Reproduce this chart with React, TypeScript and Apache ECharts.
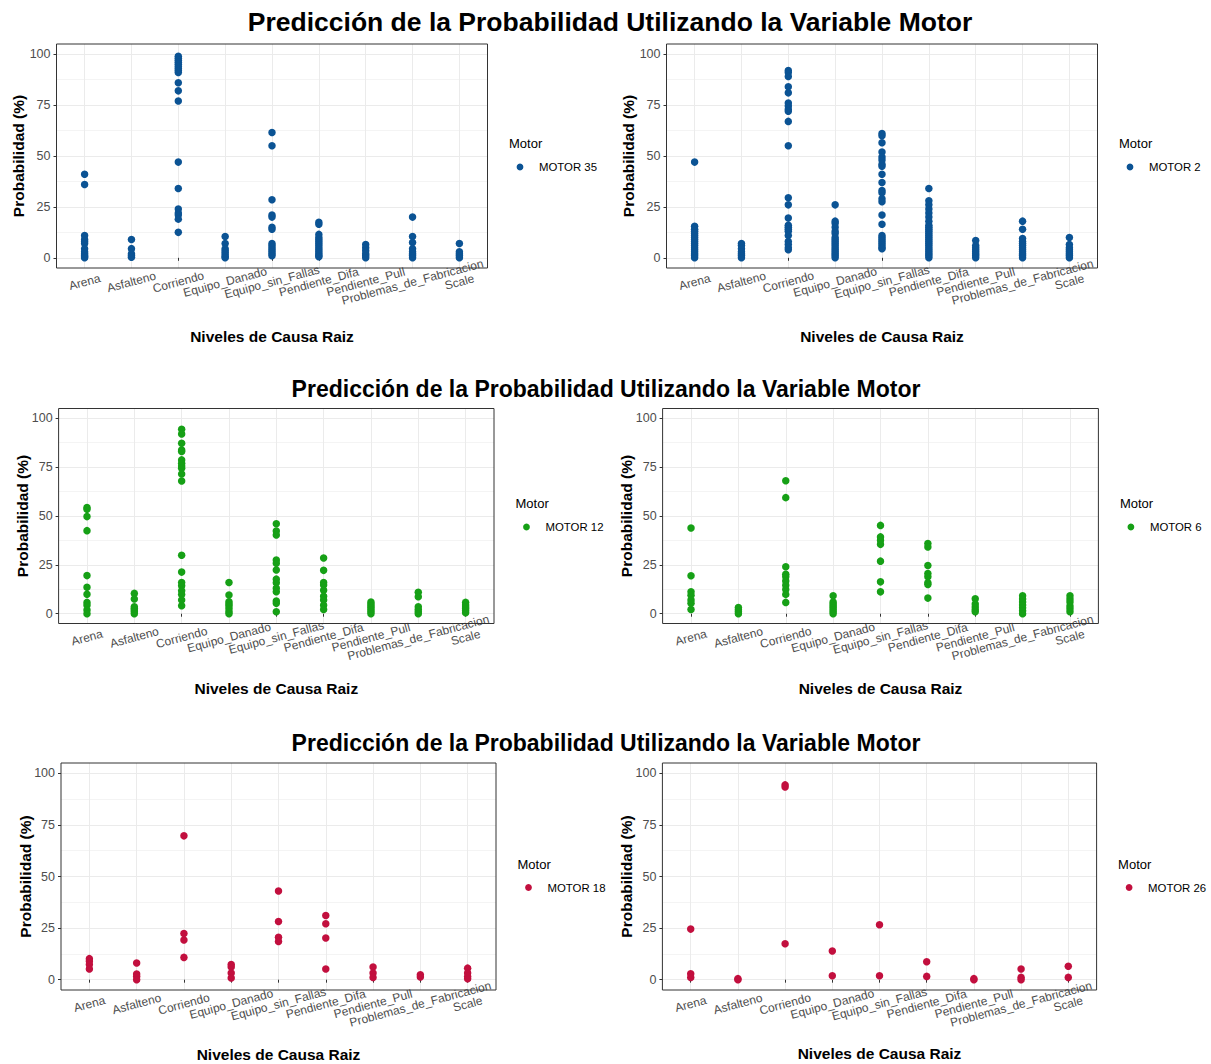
import React, { useEffect, useRef } from "react";
import * as echarts from "echarts";

const categories = [
  "Arena",
  "Asfalteno",
  "Corriendo",
  "Equipo_Danado",
  "Equipo_sin_Fallas",
  "Pendiente_Difa",
  "Pendiente_Pull",
  "Problemas_de_Fabricacion",
  "Scale",
];

const yTicks = [0, 25, 50, 75, 100];

const titleText = "Predicción de la Probabilidad Utilizando la Variable Motor";
const xAxisTitle = "Niveles de Causa Raiz";
const yAxisTitle = "Probabilidad (%)";
const legendTitle = "Motor";

const motor35: number[][] = [
  [41, 36, 11, 9, 8, 7, 4.5, 3, 2, 1, 0.5, 0],
  [9, 4.5, 2, 1, 0.3],
  [99, 98, 97, 96, 95, 94, 93, 92, 91, 86, 82, 77, 47, 34, 24, 22, 21, 19, 12.5],
  [10.5, 7, 4.5, 3.5, 2.5, 1.5, 0.5, 0],
  [61.5, 55, 28.5, 21, 20, 15, 14, 7, 6, 5, 4, 3, 2, 1],
  [17.5, 16.5, 11.5, 10, 9, 8, 7, 6, 5, 4, 3, 2, 1, 0.5],
  [6.5, 5, 3.5, 2, 1, 0],
  [20, 10.5, 7.5, 4.5, 3, 2, 1, 0],
  [7, 3, 2, 1, 0],
];

const motor2: number[][] = [
  [47, 15.5, 14, 13, 12, 11, 10, 9, 8, 7, 6, 5, 4, 3, 2, 1, 0],
  [7, 6, 4.5, 3, 2, 1, 0],
  [92, 91, 89, 84, 81, 76, 74.5, 73, 72, 67, 55, 29.5, 26, 19.5, 16, 15, 14, 13, 11, 8, 6.5, 5, 4],
  [26, 18, 17, 15, 13, 12, 10, 9, 8, 7, 6, 5, 4, 3, 2, 1, 0],
  [61, 60, 56.5, 52, 49.5, 48, 46, 45, 41, 37, 33, 32, 29, 27.5, 21, 16.5, 11, 10, 9, 8, 7, 6, 5, 4.5],
  [34, 28, 26, 24, 22, 20, 18, 16, 15, 14, 13, 12, 11, 10, 9, 8, 7, 6, 5, 4, 3, 2, 1, 0],
  [8.5, 6, 5, 4, 3, 2, 1, 0],
  [18, 14, 9.5, 8, 7, 6, 5, 4, 3, 2, 1, 0],
  [10, 6.5, 5, 4, 3, 2, 1, 0],
];

const motor12: number[][] = [
  [54.3, 53.5, 49.7, 42.5, 19.5, 13.5, 10, 5.8, 4.4, 1.9, 0],
  [10.4, 7.5, 3.6, 2.7, 1.9, 1, 0],
  [94.4, 92, 87.2, 83.8, 83, 78.7, 77, 75.6, 74.4, 71.5, 67.9, 29.9, 21.3, 16, 14.3, 11.8, 9.9, 7, 4.1],
  [16, 9.6, 6.1, 5, 4, 2.5, 1, 0],
  [46, 42.3, 40.3, 27.5, 25.8, 22.4, 17.7, 15.9, 13, 11.3, 6.5, 5.3, 1],
  [28.5, 22.2, 16, 14.7, 12, 9, 7, 4.4, 2.2],
  [6, 5, 4, 3, 2, 1, 0],
  [11, 8.7, 3.6, 2.2, 1, 0],
  [5.8, 4.5, 3.5, 2.5, 1.5, 0.5],
];

const motor6: number[][] = [
  [43.9, 19.4, 11.2, 9.5, 7, 5.3, 2.2],
  [3.2, 2, 1, 0],
  [68, 59.4, 24, 20.2, 18.9, 16.7, 14.6, 12.4, 9.9, 5.8],
  [9.2, 6, 5, 4, 3, 2, 1, 0],
  [45.2, 39.3, 37.6, 35.5, 26.9, 16.3, 11.2],
  [35.9, 34.2, 24.7, 20.6, 18.9, 15.8, 15, 8],
  [7.7, 5, 3.5, 2, 1],
  [9.2, 7.5, 6, 4.5, 3, 1.5, 0],
  [9.2, 7.5, 6, 4, 2.5, 1],
];

const motor18: number[][] = [
  [10.2, 8.9, 7.3, 5.2],
  [8.1, 2.7, 1.6, 0],
  [69.7, 22.4, 19.2, 10.8],
  [7.3, 6.1, 3.2, 0.8],
  [43, 28.2, 20.6, 18.5],
  [31.1, 27.1, 20.2, 5.2],
  [6.1, 3.2, 1.1],
  [2.4, 1.3],
  [5.6, 3.2, 1.6, 0.5],
];

const motor26: number[][] = [
  [24.5, 2.9, 1.1],
  [0.5, 0],
  [94.4, 93.4, 17.4],
  [13.9, 1.9],
  [26.6, 1.9],
  [8.7, 1.6],
  [0.5, 0],
  [5.2, 1.1, 0],
  [6.5, 1.1],
];

const motorNames = ["MOTOR 35", "MOTOR 2", "MOTOR 12", "MOTOR 6", "MOTOR 18", "MOTOR 26"];
const motorValues = [motor35, motor2, motor12, motor6, motor18, motor26];

const BLUE = "#0B5394";
const GREEN = "#16A016";
const RED = "#C20F3E";

// layout (px) of each panel: left, top, right, bottom, color
const panels = [
  { L: 56.5, T: 44, R: 487.5, B: 268, color: BLUE, yTitleOff: 38, xTitleOff: 68 },
  { L: 666.5, T: 44, R: 1097.5, B: 268, color: BLUE, yTitleOff: 38, xTitleOff: 68 },
  { L: 58.6, T: 408.5, R: 494, B: 623.5, color: GREEN, yTitleOff: 36, xTitleOff: 64.5 },
  { L: 662.6, T: 408.5, R: 1098.4, B: 623.5, color: GREEN, yTitleOff: 36, xTitleOff: 64.5 },
  { L: 61, T: 763, R: 496, B: 990, color: RED, yTitleOff: 35.5, xTitleOff: 64 },
  { L: 662.4, T: 763, R: 1096.6, B: 990, color: RED, yTitleOff: 36, xTitleOff: 63.5 },
];

const titles = [
  { y: 22, size: 26.5, x: 610 },
  { y: 389, size: 23, x: 606 },
  { y: 743, size: 23, x: 606 },
];

const FONT = "'Liberation Sans', Arial, sans-serif";

function buildOption() {
  const grid: any[] = [];
  const xAxis: any[] = [];
  const yAxis: any[] = [];
  const series: any[] = [];
  const graphic: any[] = [];

  panels.forEach((p, i) => {
    const W = p.R - p.L;
    const H = p.B - p.T;
    grid.push({ left: p.L, top: p.T + H / 22, width: W, height: (H * 20) / 22, containLabel: false });
    const unit = W / 9.2;
    grid.push({ left: p.L + 0.6 * unit, top: p.T, width: unit * 8, height: H, containLabel: false });

    xAxis.push({ gridIndex: 2 * i, type: "value", min: 0, max: 1, show: false });
    xAxis.push({
      gridIndex: 2 * i + 1,
      type: "category",
      data: categories,
      boundaryGap: false,
      axisLine: { show: false },
      axisTick: { show: true, length: 3, lineStyle: { color: "#333333", width: 1 } },
      axisLabel: {
        show: true,
        interval: 0,
        rotate: 15,
        align: "center",
        verticalAlign: "middle",
        margin: 14,
        fontSize: 12,
        fontFamily: FONT,
        color: "#4D4D4D",
      },
      splitLine: { show: true, lineStyle: { color: "#EBEBEB", width: 1 } },
    });

    yAxis.push({
      gridIndex: 2 * i,
      type: "value",
      min: 0,
      max: 100,
      interval: 25,
      axisLine: { show: false },
      axisTick: { show: true, length: 3, lineStyle: { color: "#333333", width: 1 } },
      axisLabel: { show: true, margin: 6, fontSize: 12.5, fontFamily: FONT, color: "#4D4D4D",
        customValues: yTicks },
      splitLine: { show: true, lineStyle: { color: "#EBEBEB", width: 1 } },
      minorTick: { show: false, splitNumber: 2 },
      minorSplitLine: { show: true, lineStyle: { color: "#F4F4F4", width: 1 } },
    });
    yAxis.push({ gridIndex: 2 * i + 1, type: "value", min: -5, max: 105, show: false });

    const data: any[] = [];
    motorValues[i].forEach((vals, ci) => {
      vals.forEach((v) => data.push([categories[ci], v]));
    });
    series.push({
      type: "scatter",
      name: motorNames[i],
      xAxisIndex: 2 * i + 1,
      yAxisIndex: 2 * i + 1,
      data,
      symbol: "circle",
      symbolSize: 7.5,
      itemStyle: { color: p.color, opacity: 1 },
      z: 5,
    });

    graphic.push({
      type: "rect",
      z: 100,
      shape: { x: p.L, y: p.T, width: W, height: H },
      style: { fill: "none", stroke: "#333333", lineWidth: 1 },
      silent: true,
    });
    graphic.push({
      type: "text",
      x: p.L - p.yTitleOff,
      y: (p.T + p.B) / 2,
      rotation: Math.PI / 2,
      style: {
        text: yAxisTitle,
        fontSize: 15.5,
        fontWeight: "bold",
        fontFamily: FONT,
        fill: "#000000",
        align: "center",
        verticalAlign: "middle",
      },
    });
    graphic.push({
      type: "text",
      x: (p.L + p.R) / 2,
      y: p.B + p.xTitleOff,
      style: {
        text: xAxisTitle,
        fontSize: 15.5,
        fontWeight: "bold",
        fontFamily: FONT,
        fill: "#000000",
        align: "center",
        verticalAlign: "middle",
      },
    });
    const cy = (p.T + p.B) / 2;
    graphic.push({
      type: "text",
      x: p.R + 21.5,
      y: cy - 12.5,
      style: {
        text: legendTitle,
        fontSize: 13,
        fontFamily: FONT,
        fill: "#000000",
        align: "left",
        verticalAlign: "middle",
      },
    });
    graphic.push({
      type: "circle",
      shape: { cx: p.R + 32.5, cy: cy + 11, r: 3.4 },
      style: { fill: p.color },
    });
    graphic.push({
      type: "text",
      x: p.R + 51.5,
      y: cy + 11,
      style: {
        text: motorNames[i],
        fontSize: 11.4,
        fontFamily: FONT,
        fill: "#000000",
        align: "left",
        verticalAlign: "middle",
      },
    });
  });

  titles.forEach((t) => {
    graphic.push({
      type: "text",
      x: t.x,
      y: t.y,
      style: {
        text: titleText,
        fontSize: t.size,
        fontWeight: "bold",
        fontFamily: FONT,
        fill: "#000000",
        align: "center",
        verticalAlign: "middle",
      },
    });
  });

  return {
    animation: false,
    backgroundColor: "#FFFFFF",
    grid,
    xAxis,
    yAxis,
    series,
    graphic,
  };
}

export default function App() {
  const ref = useRef<HTMLDivElement>(null);
  useEffect(() => {
    if (!ref.current) return;
    const chart = echarts.init(ref.current, null, { renderer: "svg" });
    chart.setOption(buildOption());
    return () => chart.dispose();
  }, []);
  return (
    <div
      ref={ref}
      style={{ position: "fixed", left: 0, top: 0, width: 1211, height: 1064, background: "#fff" }}
    />
  );
}
